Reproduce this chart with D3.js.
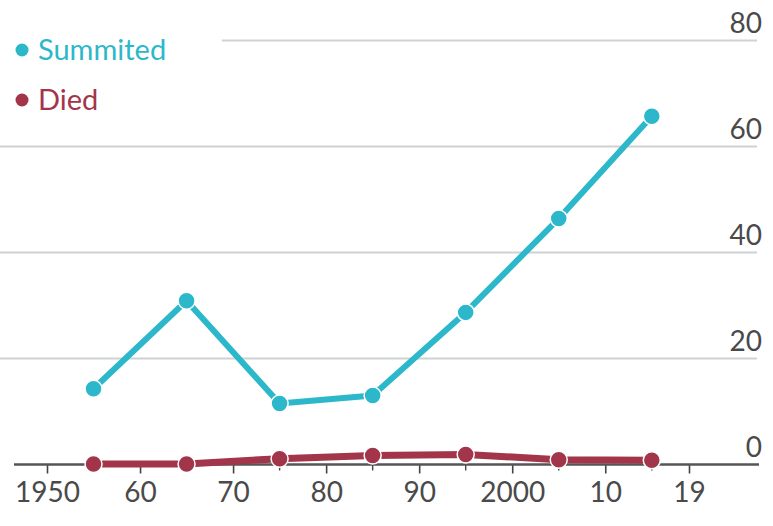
<!DOCTYPE html>
<html><head><meta charset="utf-8">
<script src="https://d3js.org/d3.v7.min.js"></script>
<style>body{margin:0;background:#fff}svg{display:block}</style>
</head><body>
<script>
const years = [1955, 1965, 1975, 1985, 1995, 2005, 2015];
const summited = [14.3, 30.9, 11.5, 13.0, 28.7, 46.4, 65.7];
const died = [0.1, 0.1, 1.1, 1.7, 1.9, 0.9, 0.8];
const yTicks = [0, 20, 40, 60, 80];
const xTicks = [1950, 1960, 1970, 1980, 1990, 2000, 2010, 2019];
const xTickLabels = ["1950", "60", "70", "80", "90", "2000", "10", "19"];
const seriesNames = ["Summited", "Died"];
const colors = ["#2cb8ca", "#a3354b"];

const W = 773, H = 526;
const svg = d3.select("body").append("svg").attr("width", W).attr("height", H);
const x = d3.scaleLinear().domain([1950, 2019]).range([47, 689]);
const y = d3.scaleLinear().domain([0, 80]).range([464.5, 40.5]);
const font = "Lato, 'Open Sans', sans-serif";

// gridlines
const grid = svg.append("g");
yTicks.filter(d => d > 0).forEach(d => {
  grid.append("line").attr("x1", d === 80 ? 222 : 0).attr("x2", 757)
    .attr("y1", y(d)).attr("y2", y(d))
    .attr("stroke", "#cdd2d5").attr("stroke-width", 2.2);
});
// y labels
yTicks.forEach(d => {
  svg.append("text").attr("x", 762).attr("y", y(d) - 8)
    .attr("text-anchor", "end").attr("font-family", font)
    .attr("font-size", 28).attr("fill", "#4a4a4a")
    .text(d);
});

// x axis
const xAxis = d3.axisBottom(x).tickValues(xTicks).tickFormat((d, i) => xTickLabels[i])
  .tickSize(9).tickSizeOuter(0);
const gx = svg.append("g").attr("transform", `translate(0,${y(0)})`).call(xAxis);
gx.select(".domain").remove();
gx.selectAll(".tick line").attr("stroke", "#444").attr("stroke-width", 1.6);
gx.selectAll(".tick text").attr("font-family", font).attr("font-size", 28)
  .attr("fill", "#4a4a4a").attr("dy", "0.9em");
// minor ticks at data years
svg.append("g").selectAll("line").data(years).join("line")
  .attr("x1", d => x(d)).attr("x2", d => x(d))
  .attr("y1", y(0)).attr("y2", y(0) + 6)
  .attr("stroke", "#444").attr("stroke-width", 1.4);
svg.append("line").attr("x1", 14).attr("x2", 759).attr("y1", y(0)).attr("y2", y(0))
  .attr("stroke", "#555").attr("stroke-width", 2.4);

const line = d3.line().x((d, i) => x(years[i])).y(d => y(d));
[summited, died].forEach((s, k) => {
  svg.append("path").datum(s).attr("d", line).attr("fill", "none")
    .attr("stroke", colors[k]).attr("stroke-width", k === 0 ? 6 : 7)
    .attr("stroke-linejoin", "round");
  svg.append("g").selectAll("circle").data(s).join("circle")
    .attr("cx", (d, i) => x(years[i])).attr("cy", d => y(d)).attr("r", 8.5)
    .attr("fill", colors[k]).attr("stroke", "#fff").attr("stroke-width", 1.5);
});

// legend
seriesNames.forEach((n, i) => {
  const cy = 50 + i * 50;
  svg.append("circle").attr("cx", 22).attr("cy", cy).attr("r", 6.5).attr("fill", colors[i]);
  svg.append("text").attr("x", 38).attr("y", cy + 10).attr("font-family", font)
    .attr("font-size", 29).attr("fill", colors[i]).text(n);
});
</script>
</body></html>
